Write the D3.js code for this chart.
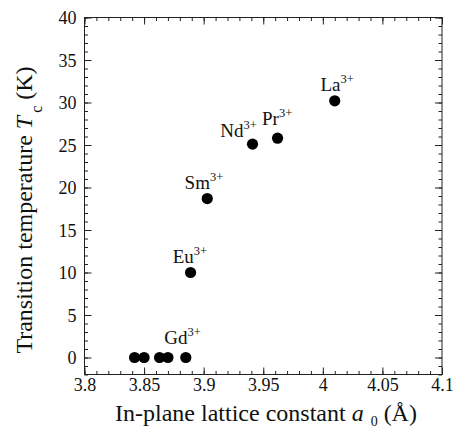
<!DOCTYPE html>
<html><head><meta charset="utf-8">
<script src="https://cdn.jsdelivr.net/npm/d3@7"></script>
<style>
html,body{margin:0;padding:0;background:#fff;}
svg{display:block;}
text{font-family:"Liberation Serif","Times New Roman",serif;fill:#111;}
</style></head>
<body>
<svg id="chart" width="455" height="430"></svg>
<script>
// ---- data ----
const samples = ["Gd","Gd","Gd","Gd","Gd","Eu","Sm","Nd","Pr","La"];
const latticeA = [3.842, 3.850, 3.863, 3.870, 3.885, 3.889, 3.903, 3.941, 3.962, 4.010];
const tcK = [0, 0, 0, 0, 0, 10.0, 18.7, 25.1, 25.8, 30.2];

const labelIons = ["La","Nd","Pr","Sm","Eu","Gd"];
const labelA = [3.998, 3.914, 3.949, 3.884, 3.874, 3.867];
const labelT = [31.4, 26.0, 27.4, 19.8, 11.1, 1.6];
const labelCharge = "3+";

const xTickValues = [3.8, 3.85, 3.9, 3.95, 4.0, 4.05, 4.1];
const xTickLabels = ["3.8","3.85","3.9","3.95","4","4.05","4.1"];
const yTickValues = [0, 5, 10, 15, 20, 25, 30, 35, 40];
const yTickLabels = ["0","5","10","15","20","25","30","35","40"];

// ---- layout ----
const FONT = "'Liberation Serif','Times New Roman',serif";
const L = 84.5, R = 442, T = 17.5, B = 374.5;
const svg = d3.select("#chart");
const x = d3.scaleLinear().domain([3.8, 4.1]).range([L, R]);
const y = d3.scaleLinear().domain([-2, 40]).range([B, T]);

const xMinor = d3.range(0, 31).map(i => 3.8 + i * 0.01);
const yMinor = d3.range(-2, 41);

const axisColor = "#222";
function styleAxis(g){
  g.attr("font-family", FONT);
  g.select(".domain").remove();
  g.selectAll("line").attr("stroke", axisColor).attr("stroke-width", 1);
  g.selectAll("text").style("font-size", "18px").style("font-family", FONT).attr("fill", "#111");
}

// minor ticks
function minor(axisFn, scale, vals, tr){
  svg.append("g").attr("transform", tr)
    .call(axisFn(scale).tickValues(vals).tickSize(-3.5).tickFormat(""))
    .call(styleAxis);
}
minor(d3.axisBottom, x, xMinor, `translate(0,${B})`);
minor(d3.axisTop, x, xMinor, `translate(0,${T})`);
minor(d3.axisLeft, y, yMinor, `translate(${L},0)`);
minor(d3.axisRight, y, yMinor, `translate(${R},0)`);

// major ticks
svg.append("g").attr("transform", `translate(0,${B})`)
  .call(d3.axisBottom(x).tickValues(xTickValues).tickSize(-7).tickPadding(0)
        .tickFormat((d,i) => xTickLabels[i]))
  .call(styleAxis)
  .call(g => g.selectAll("text").attr("y", 16).attr("dy", 0));
svg.append("g").attr("transform", `translate(0,${T})`)
  .call(d3.axisTop(x).tickValues(xTickValues).tickSize(-7).tickFormat(""))
  .call(styleAxis);
svg.append("g").attr("transform", `translate(${L},0)`)
  .call(d3.axisLeft(y).tickValues(yTickValues).tickSize(-7).tickPadding(0)
        .tickFormat((d,i) => yTickLabels[i]))
  .call(styleAxis)
  .call(g => g.selectAll("text").attr("x", -8).attr("dy", "0.34em"));
svg.append("g").attr("transform", `translate(${R},0)`)
  .call(d3.axisRight(y).tickValues(yTickValues).tickSize(-7).tickFormat(""))
  .call(styleAxis);

// frame
svg.append("rect").attr("x", L).attr("y", T).attr("width", R - L).attr("height", B - T)
  .attr("fill", "none").attr("stroke", axisColor).attr("stroke-width", 1);

// points
svg.append("g").selectAll("circle")
  .data(latticeA.map((a, i) => ({a, t: tcK[i], s: samples[i]})))
  .join("circle")
  .attr("cx", d => x(d.a)).attr("cy", d => y(d.t)).attr("r", 5.6)
  .attr("fill", "#000");

// ion labels
const lab = svg.append("g").selectAll("text")
  .data(labelIons.map((n, i) => ({n, a: labelA[i], t: labelT[i]})))
  .join("text")
  .attr("x", d => x(d.a)).attr("y", d => y(d.t))
  .style("font-size", "19px");
lab.append("tspan").text(d => d.n);
lab.append("tspan").text(labelCharge).attr("dy", -8).style("font-size", "12.5px");

// x title
const xt = svg.append("text").attr("x", 266).attr("y", 421)
  .attr("text-anchor", "middle").style("font-size", "24px");
xt.append("tspan").text("In-plane lattice constant ");
xt.append("tspan").text("a").style("font-style", "italic");
xt.append("tspan").text("0").attr("dx", 7).attr("dy", 5).style("font-size", "14px");
xt.append("tspan").text(" (Å)").attr("dy", -5);

// y title
const yt = svg.append("text").attr("transform", `translate(32,210) rotate(-90)`)
  .attr("text-anchor", "middle").style("font-size", "24px");
yt.append("tspan").text("Transition temperature ");
yt.append("tspan").text("T").style("font-style", "italic");
yt.append("tspan").text("c").attr("dx", 3).attr("dy", 10).style("font-size", "16px");
yt.append("tspan").text(" (K)").attr("dy", -10);
</script>
</body></html>
